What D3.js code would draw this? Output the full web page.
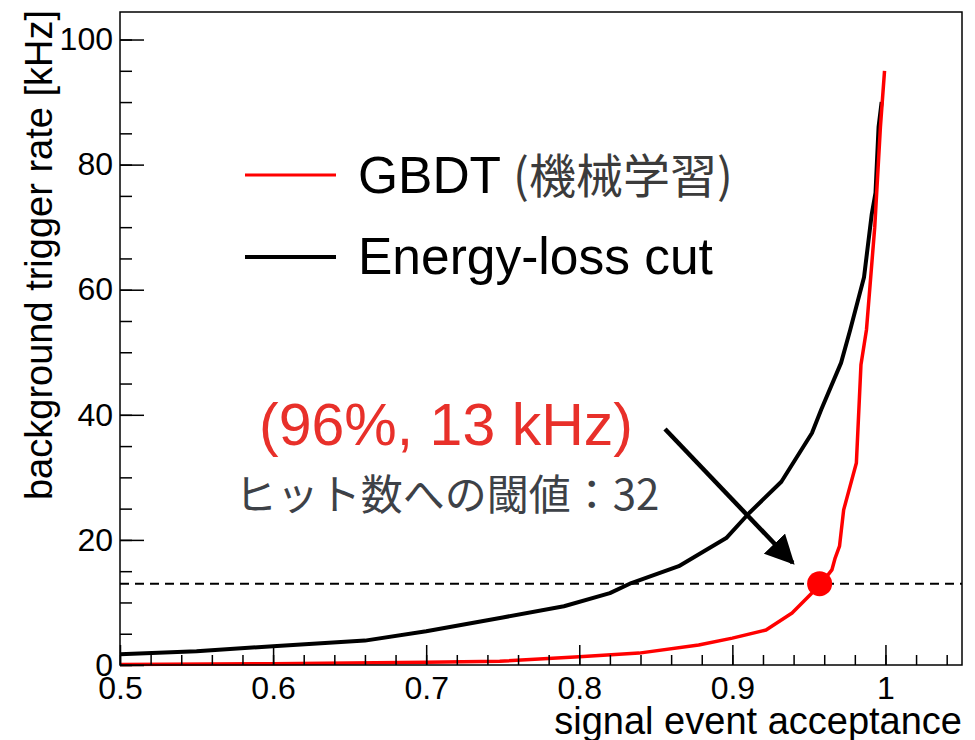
<!DOCTYPE html>
<html>
<head>
<meta charset="utf-8">
<script src="https://cdn.jsdelivr.net/npm/d3@7"></script>
<style>
  body { margin: 0; background: #fff; }
  text { font-family: "Liberation Sans", Arial, Helvetica, sans-serif; }
  .jp { font-family: "Noto Sans CJK JP", "Noto Sans", sans-serif; }
</style>
</head>
<body>
<script>
// curve values (acceptance, rate in kHz)
let gbdtAcc  = [0.5, 0.6, 0.7, 0.748, 0.8, 0.839, 0.878, 0.9, 0.922, 0.939, 0.952, 0.958, 0.965, 0.967, 0.970, 0.9727, 0.981, 0.984, 0.9876, 0.993, 0.9967, 0.9994];
let gbdtRate = [0.1, 0.2, 0.45, 0.6, 1.3, 1.9, 3.2, 4.3, 5.6, 8.3, 11.5, 13, 15.2, 17, 19, 24.8, 32.3, 48, 53.6, 70, 86, 95];

let elossAcc  = [0.5, 0.55, 0.6, 0.66, 0.7, 0.75, 0.79, 0.82, 0.834, 0.865, 0.896, 0.911, 0.932, 0.952, 0.958, 0.971, 0.977, 0.986, 0.991, 0.9935, 0.9955, 0.9975];
let elossRate = [1.7, 2.2, 3.0, 3.9, 5.4, 7.6, 9.4, 11.5, 13.1, 15.8, 20.3, 24.3, 29.3, 37.1, 40.8, 48.3, 53.6, 62, 72, 75.5, 86, 90];

// working point and threshold
let pointAcc = 0.957;
let pointRate = 13;

let legendLabels = ["GBDT", "Energy-loss cut"];
let legendNote = "(機械学習)";
let pointLabel = "(96%, 13 kHz)";
let thresholdLabel = "ヒット数への閾値：32";

let xMajor = [0.5, 0.6, 0.7, 0.8, 0.9, 1];
let xMinor = d3.range(0.5, 1.0501, 0.02);
let yMajor = [0, 20, 40, 60, 80, 100];
let yMinor = d3.range(0, 101, 5);

let W = 975, H = 740;
let frame = {left: 120, right: 962, top: 12, bottom: 665};

let x = d3.scaleLinear().domain([0.5, 1.05]).range([frame.left, frame.right]);
let y = d3.scaleLinear().domain([0, 104.4]).range([frame.bottom, frame.top]);

let svg = d3.select("body").append("svg")
    .attr("width", W)
    .attr("height", H);

// threshold line
svg.append("line")
    .attr("x1", frame.left).attr("x2", frame.right)
    .attr("y1", y(pointRate)).attr("y2", y(pointRate))
    .attr("stroke", "#000").attr("stroke-width", 2)
    .attr("stroke-dasharray", "9,6");

let line = d3.line()
    .x(function(d) { return x(d[0]); })
    .y(function(d) { return y(d[1]); });

let eloss = d3.zip(elossAcc, elossRate);
let gbdt = d3.zip(gbdtAcc, gbdtRate);

svg.append("path")
    .datum(eloss)
    .attr("fill", "none").attr("stroke", "#000").attr("stroke-width", 4)
    .attr("stroke-linejoin", "round")
    .attr("d", line);

svg.append("path")
    .datum(gbdt)
    .attr("fill", "none").attr("stroke", "#ff0000").attr("stroke-width", 3.5)
    .attr("stroke-linejoin", "round")
    .attr("d", line);

svg.append("circle")
    .attr("cx", x(pointAcc)).attr("cy", y(pointRate)).attr("r", 12.5)
    .attr("fill", "#ff0000");

// axes (ticks inside the frame)
let yMinorAxis = svg.append("g")
    .attr("transform", "translate(" + frame.left + ",0)")
    .call(d3.axisLeft(y).tickValues(yMinor).tickSizeInner(-12).tickSizeOuter(0).tickFormat(""));
let yMajorAxis = svg.append("g")
    .attr("transform", "translate(" + frame.left + ",0)")
    .call(d3.axisLeft(y).tickValues(yMajor).tickSizeInner(-24).tickSizeOuter(0).tickPadding(7).tickFormat(d3.format("d")));
let xMinorAxis = svg.append("g")
    .attr("transform", "translate(0," + frame.bottom + ")")
    .call(d3.axisBottom(x).tickValues(xMinor).tickSizeInner(-10).tickSizeOuter(0).tickFormat(""));
let xMajorAxis = svg.append("g")
    .attr("transform", "translate(0," + frame.bottom + ")")
    .call(d3.axisBottom(x).tickValues(xMajor).tickSizeInner(-20).tickSizeOuter(0).tickPadding(11).tickFormat(d3.format("")));

[yMinorAxis, yMajorAxis, xMinorAxis, xMajorAxis].forEach(function(g) {
  g.select(".domain").remove();
  g.selectAll("line").attr("stroke", "#000").attr("stroke-width", 1.5);
  g.selectAll("text").attr("fill", "#000").attr("font-size", 32)
    .attr("font-family", "Liberation Sans, Arial, sans-serif");
});

// frame
svg.append("rect")
    .attr("x", frame.left).attr("y", frame.top)
    .attr("width", frame.right - frame.left).attr("height", frame.bottom - frame.top)
    .attr("fill", "none").attr("stroke", "#000").attr("stroke-width", 1.5);

// axis titles
svg.append("text")
    .attr("x", frame.right).attr("y", 734)
    .attr("text-anchor", "end").attr("font-size", 38)
    .text("signal event acceptance");

svg.append("text")
    .attr("transform", "translate(52," + 10 + ") rotate(-90)")
    .attr("text-anchor", "end").attr("font-size", 38)
    .text("background trigger rate [kHz]");

// legend
let legendColors = ["#ff0000", "#000"];
let legendY = [175, 257];
let legendBase = [193, 274];
legendLabels.forEach(function(lab, i) {
  svg.append("line")
      .attr("x1", 245).attr("x2", 336)
      .attr("y1", legendY[i]).attr("y2", legendY[i])
      .attr("stroke", legendColors[i]).attr("stroke-width", i === 0 ? 3 : 4);
  let t = svg.append("text")
      .attr("x", 358).attr("y", legendBase[i])
      .attr("font-size", 51.5).attr("fill", "#000")
      .text(lab);
  if (i === 0) {
    t.append("tspan")
        .attr("class", "jp")
        .attr("font-size", 47).attr("fill", "#3b3b3b")
        .attr("dx", 12)
        .text(legendNote);
  }
});

// annotation
svg.append("text")
    .attr("x", 446).attr("y", 445)
    .attr("text-anchor", "middle")
    .attr("font-size", 59).attr("fill", "#e8302a")
    .text(pointLabel);

svg.append("text")
    .attr("class", "jp")
    .attr("x", 447).attr("y", 510)
    .attr("text-anchor", "middle")
    .attr("font-size", 42).attr("fill", "#3d4147")
    .text(thresholdLabel);

// arrow toward the working point
let defs = svg.append("defs");
defs.append("marker")
    .attr("id", "head")
    .attr("viewBox", "0 0 10 10")
    .attr("refX", 9).attr("refY", 5)
    .attr("markerWidth", 6.5).attr("markerHeight", 6.5)
    .attr("markerUnits", "strokeWidth")
    .attr("orient", "auto")
  .append("path")
    .attr("d", "M0,0 L10,5 L0,10 Z")
    .attr("fill", "#000");

svg.append("line")
    .attr("x1", 665).attr("y1", 429)
    .attr("x2", x(pointAcc) - 27).attr("y2", y(pointRate) - 21)
    .attr("stroke", "#000").attr("stroke-width", 4.5)
    .attr("marker-end", "url(#head)");
</script>
</body>
</html>
